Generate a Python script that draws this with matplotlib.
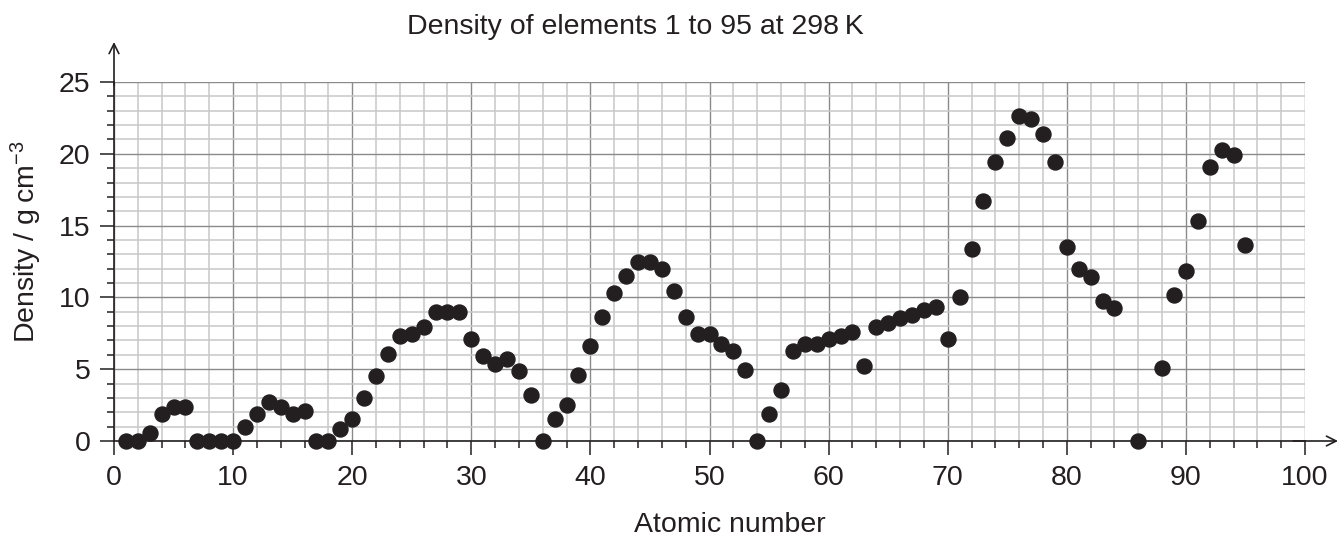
import matplotlib
matplotlib.use("Agg")
import matplotlib.pyplot as plt
import numpy as np
from matplotlib.ticker import MultipleLocator

plt.rcParams['font.family'] = ['Liberation Sans', 'DejaVu Sans']
plt.rcParams['mathtext.fontset'] = 'custom'
plt.rcParams['mathtext.rm'] = 'Liberation Sans'
plt.rcParams['mathtext.it'] = 'Liberation Sans:italic'

# Atomic numbers (85 At and 87 Fr not plotted)
atomic_number = [1, 2, 3, 4, 5, 6, 7, 8, 9, 10,
                 11, 12, 13, 14, 15, 16, 17, 18, 19, 20,
                 21, 22, 23, 24, 25, 26, 27, 28, 29, 30,
                 31, 32, 33, 34, 35, 36, 37, 38, 39, 40,
                 41, 42, 43, 44, 45, 46, 47, 48, 49, 50,
                 51, 52, 53, 54, 55, 56, 57, 58, 59, 60,
                 61, 62, 63, 64, 65, 66, 67, 68, 69, 70,
                 71, 72, 73, 74, 75, 76, 77, 78, 79, 80,
                 81, 82, 83, 84, 86, 88, 89, 90,
                 91, 92, 93, 94, 95]
density = [0.0, 0.0, 0.55, 1.85, 2.36, 2.36, 0.0, 0.0, 0.0, 0.0,
           1.0, 1.85, 2.72, 2.38, 1.85, 2.06, 0.0, 0.0, 0.85, 1.5,
           3.02, 4.55, 6.05, 7.3, 7.45, 7.95, 8.95, 8.95, 8.95, 7.1,
           5.9, 5.37, 5.72, 4.9, 3.2, 0.0, 1.53, 2.54, 4.58, 6.6,
           8.65, 10.3, 11.48, 12.47, 12.47, 11.99, 10.46, 8.65, 7.43, 7.43,
           6.76, 6.3, 4.92, 0.0, 1.88, 3.56, 6.24, 6.76, 6.76, 7.1,
           7.3, 7.6, 5.25, 7.95, 8.25, 8.6, 8.8, 9.1, 9.3, 7.1,
           10.0, 13.35, 16.7, 19.4, 21.1, 22.6, 22.45, 21.4, 19.4, 13.5,
           11.95, 11.45, 9.78, 9.28, 0.0, 5.07, 10.15, 11.83,
           15.35, 19.07, 20.25, 19.93, 13.65]

x_ticks = [0, 10, 20, 30, 40, 50, 60, 70, 80, 90, 100]
y_ticks = [0, 5, 10, 15, 20, 25]

ink = '#231f20'

fig = plt.figure(figsize=(13.4, 5.38), dpi=100)
ax = fig.add_axes([114/1340, (538-441)/538, 1191/1340, 359/538])

ax.set_xlim(0, 100)
ax.set_ylim(0, 25)
ax.set_xticks(x_ticks)
ax.set_yticks(y_ticks)
ax.xaxis.set_minor_locator(MultipleLocator(2))
ax.yaxis.set_minor_locator(MultipleLocator(1))

ax.grid(which='minor', color='#c8c8c8', linewidth=1.1, zorder=0)
ax.grid(which='major', color='#8a8a8a', linewidth=1.0, zorder=0.5)
ax.set_axisbelow(True)

for s in ['top', 'right']:
    ax.spines[s].set_visible(False)
ax.spines['left'].set_color(ink)
ax.spines['bottom'].set_color(ink)
ax.spines['left'].set_linewidth(1.2)
ax.spines['bottom'].set_linewidth(1.2)

ax.tick_params(which='major', direction='out', length=10, width=1.1, color=ink,
               labelsize=20.5, labelcolor=ink)
ax.tick_params(axis='x', which='major', pad=7)
ax.tick_params(axis='y', which='major', pad=7)
ax.tick_params(which='minor', direction='out', length=5, width=1.1, color=ink)

# axis arrows
ax.annotate('', xy=(0, (441-42)/359), xytext=(0, 0.99), xycoords='axes fraction',
            arrowprops=dict(arrowstyle='->,head_length=0.7,head_width=0.35', color=ink, lw=1.2,
                            shrinkA=0, shrinkB=0), annotation_clip=False)
ax.annotate('', xy=((1338-114)/1191, 0), xytext=(0.99, 0), xycoords='axes fraction',
            arrowprops=dict(arrowstyle='->,head_length=0.7,head_width=0.35', color=ink, lw=1.2,
                            shrinkA=0, shrinkB=0), annotation_clip=False)

ax.plot(atomic_number, density, 'o', color=ink, markersize=10.8, linestyle='none',
        clip_on=False, zorder=5)

fig.text(635/1340, 1 - 27/538, 'Density of elements 1 to 95 at 298\u2009K', ha='center', va='center',
         fontsize=20.5, color=ink)
fig.text(730/1340, 1 - 525/538, 'Atomic number', ha='center', va='center', fontsize=20.5, color=ink)
fig.text(26/1340, 1 - 242/538, 'Density / g\u2009cm$^{\u22123}$', ha='center', va='center',
         rotation=90, fontsize=20.5, color=ink)

fig.savefig('out.png', dpi=100)
